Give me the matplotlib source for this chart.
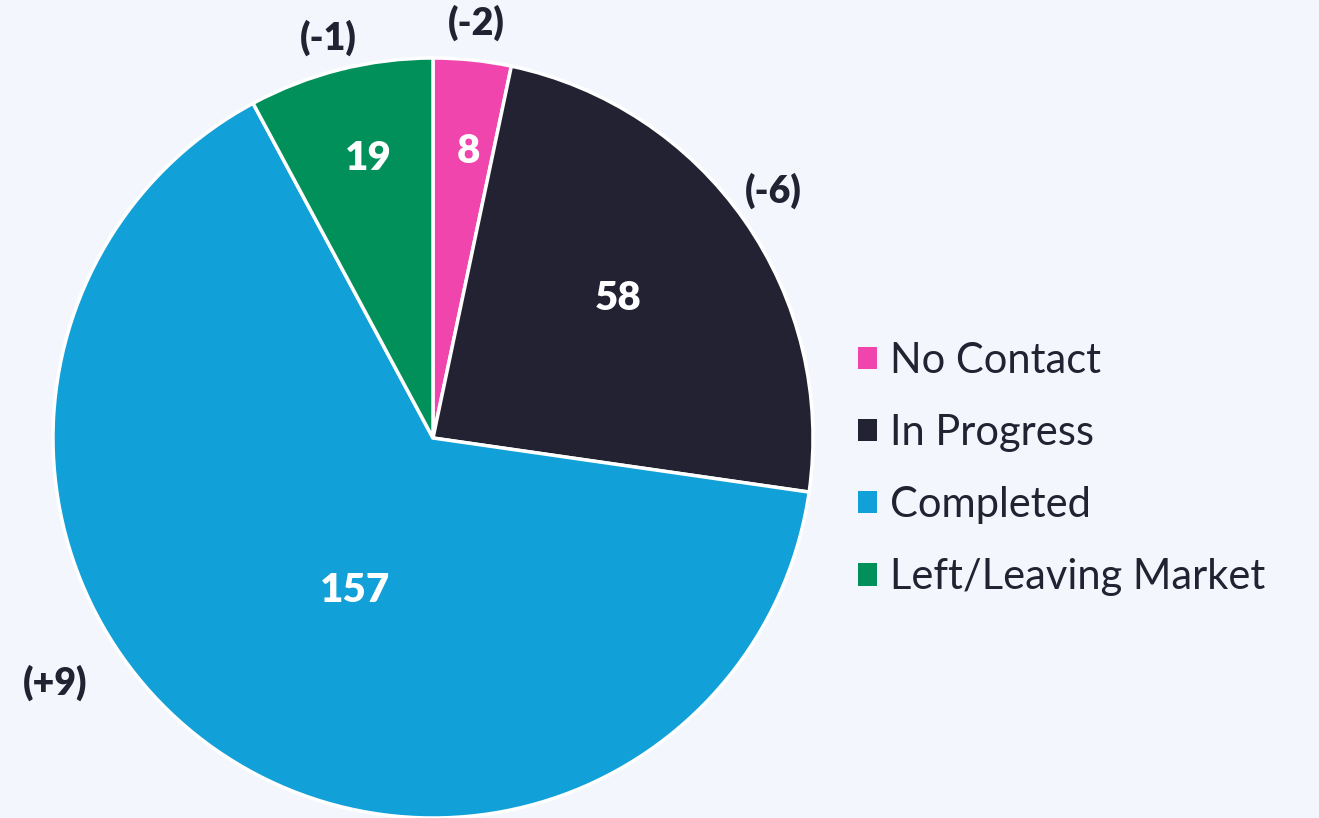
import matplotlib
matplotlib.use("Agg")
import matplotlib.pyplot as plt
import numpy as np
from matplotlib.patches import Patch

# ======================
# DATA
# ======================
categories = ["No Contact", "In Progress", "Completed", "Left/Leaving Market"]
counts = [8, 58, 157, 19]
changes = ["(-2)", "(-6)", "(+9)", "(-1)"]
colors = ["#EF45AD", "#222232", "#11A0D7", "#01905A"]

# label layout (angle in degrees, radius as fraction of pie radius)
value_pos = [(83, 0.76), (37, 0.61), (243, 0.45), (103, 0.755)]
change_pos = [(84, 1.10), (36, 1.107), (213, 1.185), (104.7, 1.088)]

bg = "#F3F7FD"
text_dark = "#222232"
plt.rcParams["font.family"] = ["Lato", "DejaVu Sans"]

# ======================
# FIGURE
# ======================
fig = plt.figure(figsize=(13.19, 8.18), dpi=100, facecolor=bg)
# pie centre at (433, 438) px, radius 380 px
ax = fig.add_axes([53 / 1319, 0, 760 / 1319, 760 / 818])
ax.set_facecolor(bg)

wedges, _ = ax.pie(
    counts,
    colors=colors,
    startangle=90,
    counterclock=False,
    radius=1.0,
    wedgeprops=dict(edgecolor="white", linewidth=2.5),
)
ax.set_xlim(-1, 1)
ax.set_ylim(-1, 1)
ax.set_aspect("equal")

for val, (ang, r) in zip(counts, value_pos):
    t = np.deg2rad(ang)
    ax.text(r * np.cos(t), r * np.sin(t), str(val), ha="center", va="center",
            fontsize=29, fontweight="heavy", color="white")

for ch, (ang, r) in zip(changes, change_pos):
    t = np.deg2rad(ang)
    ax.text(r * np.cos(t), r * np.sin(t), ch, ha="center", va="center",
            fontsize=27, fontweight="heavy", color=text_dark, clip_on=False)

# ======================
# LEGEND
# ======================
handles = [Patch(facecolor=c, edgecolor="none") for c in colors]
fig.legend(
    handles, categories,
    loc="center left", bbox_to_anchor=(858 / 1319, 349 / 818),
    frameon=False, fontsize=30, labelcolor=text_dark,
    handlelength=0.45, handleheight=0.45, handletextpad=0.32,
    labelspacing=0.82, borderpad=0, borderaxespad=0,
)

fig.savefig("out.png", dpi=100, facecolor=bg)
